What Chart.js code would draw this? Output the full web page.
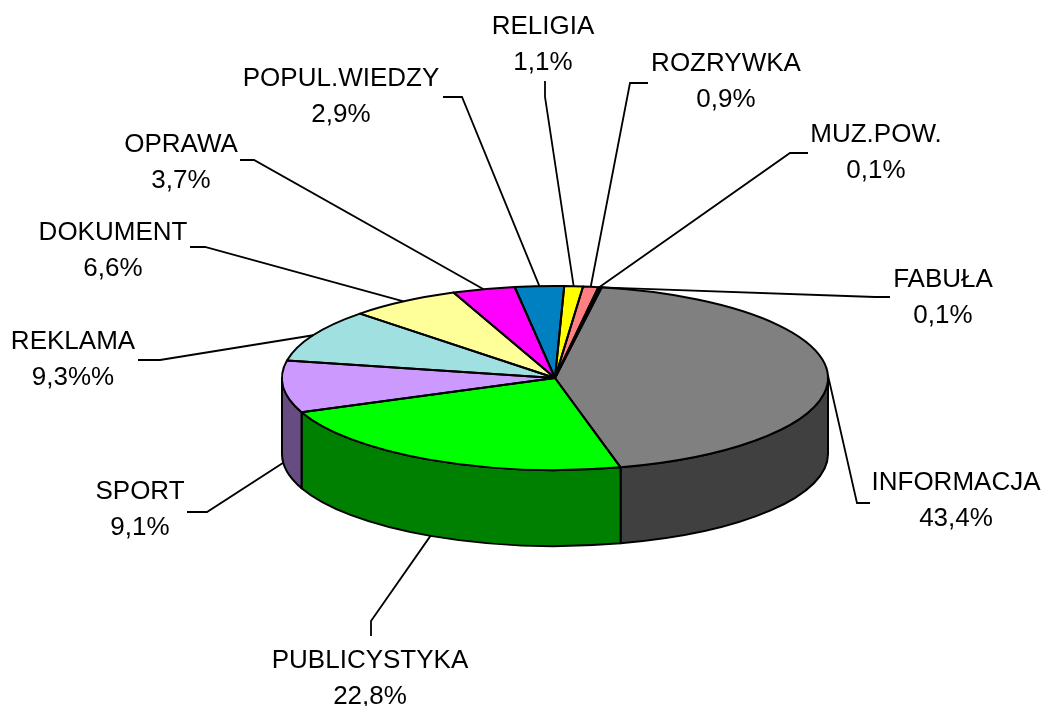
<!DOCTYPE html>
<html>
<head>
<meta charset="utf-8">
<script src="https://cdn.jsdelivr.net/npm/chart.js@4"></script>
<style>
  html, body { margin: 0; padding: 0; background: #fff; }
  #wrap { width: 1043px; height: 706px; position: relative; }
</style>
</head>
<body>
<div id="wrap"><canvas id="myChart"></canvas></div>
<script>
// data, clockwise from the start angle
var categories = ["FABUŁA", "INFORMACJA", "PUBLICYSTYKA", "SPORT", "REKLAMA", "DOKUMENT", "OPRAWA", "POPUL.WIEDZY", "RELIGIA", "ROZRYWKA", "MUZ.POW."];
var shares = [0.1, 43.4, 22.8, 9.1, 9.3, 6.6, 3.7, 2.9, 1.1, 0.9, 0.1];
var shareLabels = ["0,1%", "43,4%", "22,8%", "9,1%", "9,3%%", "6,6%", "3,7%", "2,9%", "1,1%", "0,9%", "0,1%"];

// styles
var topColors = ["#800000", "#808080", "#00FF00", "#CC99FF", "#A0E0E0", "#FFFF99", "#FF00FF", "#0080C0", "#FFFF00", "#FF8080", "#CC00CC"];
var sideColors = ["#400000", "#404040", "#008000", "#664C80", "#507070", "#80804C", "#800080", "#004060", "#808000", "#804040", "#660066"];

// layout of the labels, in page pixels: [label x, first line y, elbow x, elbow y, line end x, line end y]
var labelLayout = [
  [943, 280, 875, 297, 890, 297],
  [956, 483, 857, 503, 870, 503],
  [370, 661, 371, 621, 371, 636],
  [140, 492, 207, 512, 187, 512],
  [73, 342, 160, 360, 138, 360],
  [113, 233, 205, 247, 190, 247],
  [181, 145, 254, 160, 240, 160],
  [341, 79, 462, 97, 443, 97],
  [543, 27, 545, 97, 545, 81],
  [726, 64, 630, 83, 648, 83],
  [876, 135, 790, 153, 808, 153]
];

var squash = 0.337;  // ellipse height / width
var depth = 76;      // height of the wall
var startDeg = 9.5;

function ellipsePath(ctx, a, from, to, dy, back) {
  ctx.save();
  ctx.translate(a.x, a.y + dy);
  ctx.scale(1, squash);
  ctx.arc(0, 0, a.outerRadius, from, to, back);
  ctx.restore();
}

// wall below the front edge
function drawWalls(chart) {
  var ctx = chart.ctx;
  var arcs = chart.getDatasetMeta(0).data;
  ctx.save();
  ctx.lineWidth = 2;
  ctx.strokeStyle = "#000";
  ctx.lineJoin = "round";
  arcs.forEach(function (a, i) {
    // angles run from -PI/2 upward, the front is 0..PI
    var from = Math.max(a.startAngle, 0), to = Math.min(a.endAngle, Math.PI);
    if (to <= from) return;
    ctx.beginPath();
    ellipsePath(ctx, a, from, to, 0, false);
    ellipsePath(ctx, a, to, from, depth, true);
    ctx.closePath();
    ctx.fillStyle = sideColors[i];
    ctx.fill();
    ctx.stroke();
  });
  ctx.restore();
}

// slice outlines, drawn after the squash so the line keeps its width
function drawOutlines(chart) {
  var ctx = chart.ctx;
  var arcs = chart.getDatasetMeta(0).data;
  ctx.save();
  ctx.lineWidth = 2;
  ctx.strokeStyle = "#000";
  ctx.lineJoin = "round";
  arcs.forEach(function (a) {
    ctx.beginPath();
    ctx.moveTo(a.x, a.y);
    ellipsePath(ctx, a, a.startAngle, a.endAngle, 0, false);
    ctx.closePath();
    ctx.stroke();
  });
  ctx.restore();
}

function drawLabels(chart) {
  var ctx = chart.ctx;
  var arcs = chart.getDatasetMeta(0).data;
  ctx.save();
  ctx.font = '26px "Liberation Sans"';
  ctx.textAlign = "center";
  ctx.textBaseline = "middle";
  ctx.fillStyle = "#000";
  ctx.strokeStyle = "#000";
  ctx.lineWidth = 1.8;
  arcs.forEach(function (a, i) {
    var mid = (a.startAngle + a.endAngle) / 2;
    var rx = a.outerRadius, ry = rx * squash;
    var px = a.x + rx * Math.cos(mid);
    var py = a.y + ry * Math.sin(mid) + (Math.sin(mid) > 0.05 ? depth : 0);
    var l = labelLayout[i];
    ctx.beginPath();
    ctx.moveTo(px, py);
    ctx.lineTo(l[2], l[3]);
    ctx.lineTo(l[4], l[5]);
    ctx.stroke();
    ctx.fillText(categories[i], l[0], l[1]);
    ctx.fillText(shareLabels[i], l[0], l[1] + 35.5);
  });
  ctx.restore();
}

var pie3d = {
  id: "pie3d",
  beforeDatasetsDraw: function (chart) {
    drawWalls(chart);
    var a = chart.getDatasetMeta(0).data[0];
    var ctx = chart.ctx;
    ctx.save();
    ctx.translate(a.x, a.y);
    ctx.scale(1, squash);
    ctx.translate(-a.x, -a.y);
  },
  afterDatasetsDraw: function (chart) {
    chart.ctx.restore();
    drawOutlines(chart);
    drawLabels(chart);
  }
};

new Chart("myChart", {
  type: "pie",
  data: {
    labels: categories,
    datasets: [{
      data: shares,
      backgroundColor: topColors,
      borderWidth: 0
    }]
  },
  options: {
    responsive: true,
    maintainAspectRatio: false,
    animation: false,
    rotation: startDeg,
    layout: { padding: { left: 282, right: 215, top: 105, bottom: 55 } },
    plugins: {
      legend: { display: false },
      tooltip: { enabled: false },
      title: { display: false }
    }
  },
  plugins: [pie3d]
});
</script>
</body>
</html>
